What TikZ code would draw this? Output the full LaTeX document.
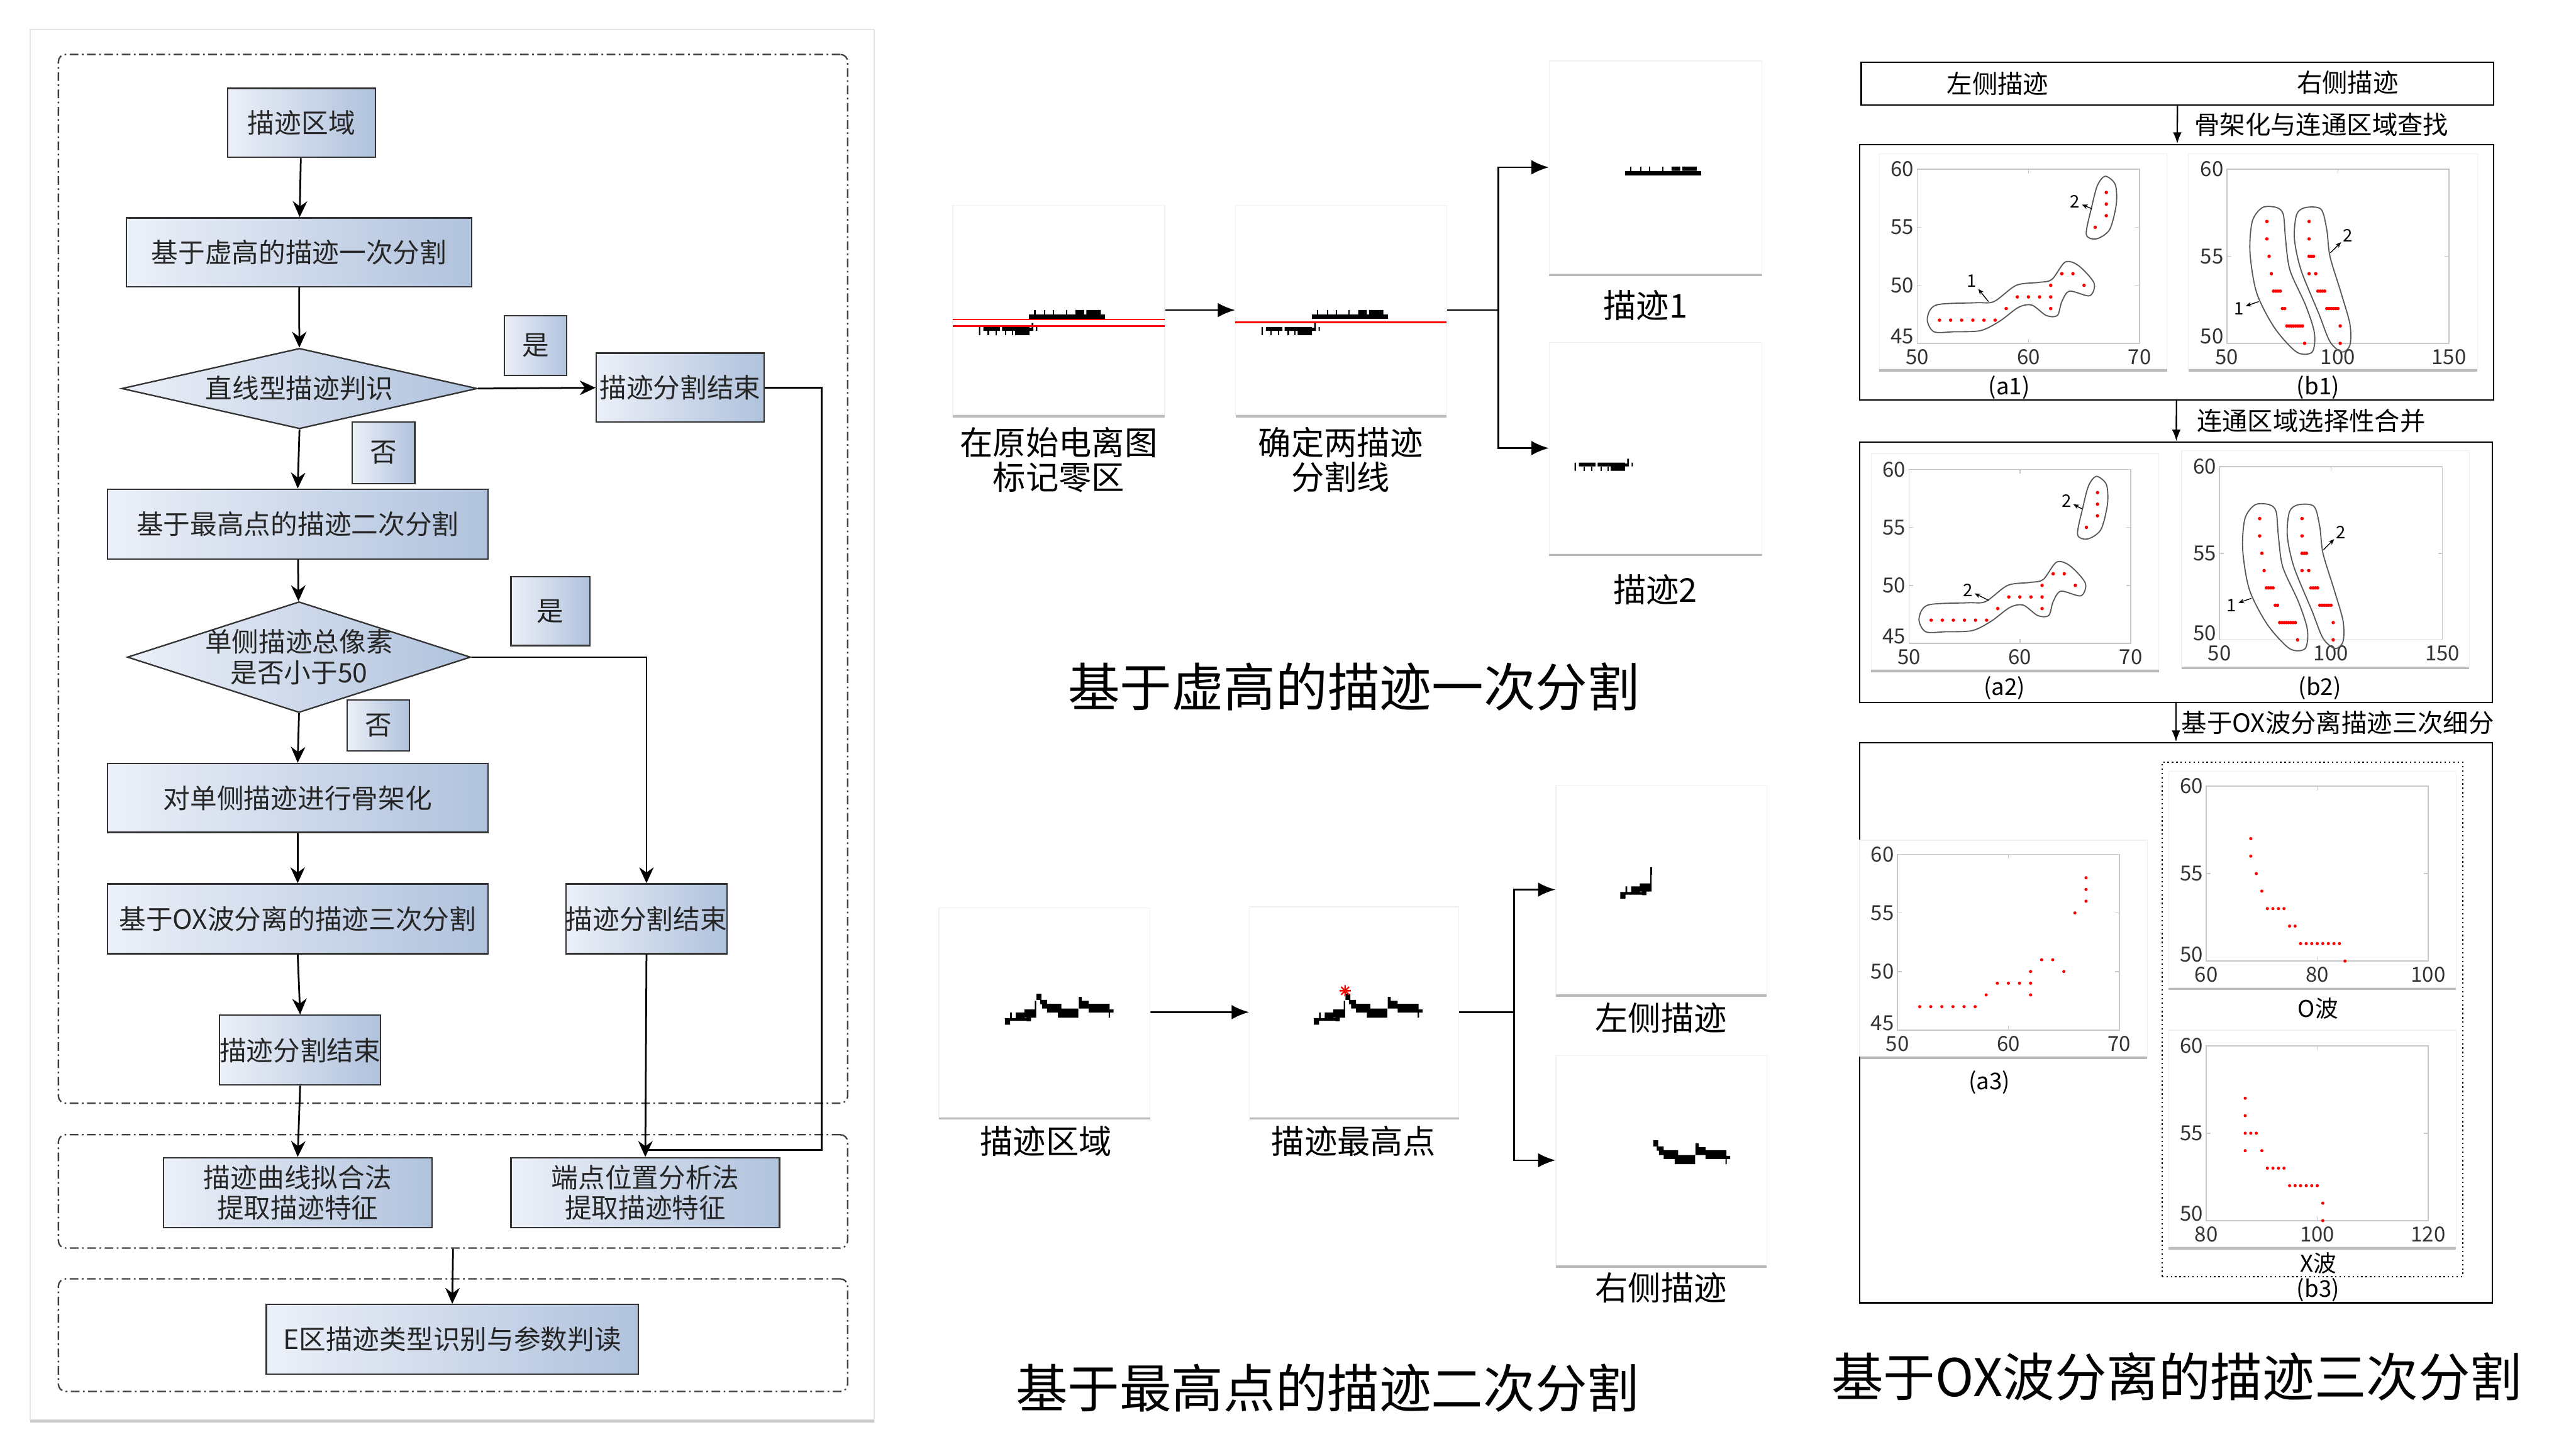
\documentclass[tikz,border=0pt]{standalone}
\usepackage{fontspec}
\setmainfont{Noto Sans CJK SC}
\usetikzlibrary{arrows.meta,shapes.geometric,shadows,positioning}

\definecolor{boxlight}{RGB}{236,240,248}
\definecolor{boxdark}{RGB}{176,194,221}
\definecolor{axgray}{RGB}{200,200,200}

% ionogram traces, drawn in full-size pixels (y downwards)
\newcommand{\traceup}{%
  \fill (0,0) rectangle (175,10);
  \foreach \tk in {12,35,55,85} {\fill (\tk,-10) rectangle ++(3,10);}
  \fill (107,-10) rectangle (127,0) (132,-10) rectangle (165,0);
}
\newcommand{\tracelow}{%
  \fill (0,0) rectangle (3,19) (10,0) rectangle (48,9) (53,0) rectangle (116,9)
        (83,0) rectangle (116,19) (116,2) rectangle (121,9) (121,-9) rectangle (125,9)
        (131,0) rectangle (134,9);
  \foreach \tk in {20,38,60,75} {\fill (\tk,9) rectangle ++(3,10);}
}
\newcommand{\peakleft}{%
  \fill (27,122) rectangle (39,137) (39,122) rectangle (77,128) (39,109) rectangle (43,122)
        (52,109) rectangle (72,122) (72,102) rectangle (99,121) (77,121) rectangle (87,129)
        (96,82) rectangle (99,102);
}
\newcommand{\peakright}{%
  \fill (100,66) rectangle (111,80) (108,80) rectangle (124,90) (113,89) rectangle (157,100)
        (124,100) rectangle (157,109) (149,100) rectangle (196,121) (197,73) rectangle (204,100)
        (197,82) rectangle (220,100) (220,89) rectangle (268,109) (268,102) rectangle (277,109)
        (266,109) rectangle (269,121);
}
% scatter data
\newcommand{\leftpts}{52/47,53/47,54/47,55/47,56/47,57/47,58/48,59/49,60/49,61/49,62/49,62/50,62/48,63/51,64/51,65/50,66/55,67/56,67/57,67/58}
\newcommand{\opts}{68/57,68/56,69/55,70/54,71/53,72/53,73/53,74/53,75/52,76/52,77/51,78/51,79/51,80/51,81/51,82/51,83/51,84/51,85/50}
\newcommand{\xpts}{87/57,87/56,87/55,88/55,89/55,87/54,90/54,91/53,92/53,93/53,94/53,95/52,96/52,97/52,98/52,99/52,100/52,101/51,101/50}
% axes box: xmin, x2, xmax, ymin, y2, ymax
\newcommand{\plotaxes}[6]{%
  \draw[axisframe] (#1,#4) rectangle (#3,#6);
  \foreach \tk in {#1,#2,...,#3} {
    \draw[axisframe] (\tk,#4) -- ++(0pt,1.5pt) (\tk,#6) -- ++(0pt,-1.5pt);
    \node[ticklab, below, yshift=-0.8pt] at (\tk,#4) {\tk};
  }
  \foreach \tk [count=\tkn] in {#4,#5,...,#6} {
    \draw[axisframe] (#1,\tk) -- ++(1.5pt,0pt) (#3,\tk) -- ++(-1.5pt,0pt);
    \ifnum\tkn=1
      \node[ticklab, anchor=south east, yshift=-1.5pt] at (#1,\tk) {\tk};
    \else
      \node[ticklab, left] at (#1,\tk) {\tk};
    \fi
  }
}

\begin{document}
\begin{tikzpicture}[x=0.02cm, y=-0.02cm, >={Stealth[length=5.5pt,width=5pt]},
  flow/.style={draw=black!80, line width=0.5pt, left color=boxlight, right color=boxdark,
    font=\fontsize{9.3}{10.6}\selectfont, text=black!85, align=center, inner sep=0pt},
  frame/.style={draw=black!75, line width=0.5pt, rounded corners=2.5pt,
    dash pattern=on 3pt off 1.2pt on 0.6pt off 1.2pt, inner sep=0pt},
  flowarrow/.style={->, line width=0.6pt},
  shot/.style={fill=white, draw=black!6, line width=0.3pt, inner sep=0pt,
    drop shadow={shadow xshift=0pt, shadow yshift=-0.9pt, opacity=0.6, fill=black!45}},
  midarrow/.style={-{Latex[length=6pt,width=5pt]}, line width=0.6pt},
  redline/.style={red, line width=0.6pt},
  capt/.style={font=\fontsize{11.4}{12}\selectfont, align=center},
  title/.style={font=\fontsize{18}{20}\selectfont},
  rightlab/.style={font=\fontsize{8.8}{10}\selectfont, inner sep=0pt},
  smallarrow/.style={-{Latex[length=4pt,width=3pt]}, line width=0.5pt},
  sublab/.style={font=\fontsize{8}{9}\selectfont, inner sep=0pt},
  axisframe/.style={axgray, line width=0.35pt},
  ticklab/.style={font=\fontsize{7.2}{8}\selectfont, text=black!80, inner sep=1pt},
  blob/.style={black!65, line width=0.4pt},
  clusterlab/.style={font=\fontsize{6}{7}\selectfont, inner sep=0.5pt},
  tinyarrow/.style={-{Stealth[length=2pt,width=1.6pt]}, line width=0.3pt}]
\useasboundingbox (0,0) rectangle (1568,882);

% ---- flowchart ----
\filldraw[fill=white, draw=black!10, drop shadow={shadow xshift=0pt, shadow yshift=-1pt, opacity=0.5, fill=black!40}] (18.5,18) rectangle (532,864);
\node[frame, minimum width=9.61cm, minimum height=12.77cm] (fr1) at (275.75,352.35) {};
\node[frame, minimum width=9.61cm, minimum height=1.38cm] (fr2) at (275.75,725.2) {};
\node[frame, minimum width=9.61cm, minimum height=1.37cm] (fr3) at (275.75,812.7) {};

\node[flow, minimum width=1.8cm, minimum height=0.84cm] (start) at (183.5,74.8) {描迹区域};
\node[flow, minimum width=4.2cm, minimum height=0.84cm] (seg1) at (182,153.6) {基于虚高的描迹一次分割};
\node[flow, diamond, aspect=4.4, minimum width=4.33cm, minimum height=0.98cm] (judge1) at (182.3,236.5) {直线型描迹判识};
\node[flow, minimum width=0.76cm, minimum height=0.73cm] (yes1) at (326,210.3) {是};
\node[flow, minimum width=2.04cm, minimum height=0.84cm] (end1) at (414,236) {描迹分割结束};
\node[flow, minimum width=0.76cm, minimum height=0.75cm] (no1) at (233.5,275.5) {否};
\node[flow, minimum width=4.63cm, minimum height=0.85cm] (seg2) at (181.2,319) {基于最高点的描迹二次分割};
\node[flow, diamond, aspect=3.1, inner xsep=-4pt, minimum width=4.18cm, minimum height=1.35cm] (judge2) at (182,400) {单侧描迹总像素\\是否小于50};
\node[flow, minimum width=0.96cm, minimum height=0.84cm] (yes2) at (335,372) {是};
\node[flow, minimum width=0.76cm, minimum height=0.62cm] (no2) at (230.3,441.5) {否};
\node[flow, minimum width=4.63cm, minimum height=0.84cm] (skel) at (181.2,485.7) {对单侧描迹进行骨架化};
\node[flow, minimum width=4.63cm, minimum height=0.85cm] (seg3) at (181.2,559.3) {基于OX波分离的描迹三次分割};
\node[flow, minimum width=1.94cm, minimum height=0.85cm] (end2) at (393.5,559.3) {描迹分割结束};
\node[flow, minimum width=1.95cm, minimum height=0.85cm] (end3) at (182.7,639.2) {描迹分割结束};
\node[flow, minimum width=3.27cm, minimum height=0.85cm] (curvefit) at (181.2,725.9) {描迹曲线拟合法\\提取描迹特征};
\node[flow, minimum width=3.27cm, minimum height=0.85cm] (endpos) at (392.8,725.9) {端点位置分析法\\提取描迹特征};
\node[flow, minimum width=4.53cm, minimum height=0.85cm] (eregion) at (275.3,815.3) {E区描迹类型识别与参数判读};

\draw[flowarrow] (start) -- (seg1);
\draw[flowarrow] (seg1) -- (judge1);
\draw[flowarrow] (judge1.east) -- (end1.west);
\draw[flowarrow] (judge1.south) -- (seg2.north);
\draw[flowarrow] (seg2) -- (judge2);
\draw[flowarrow] (judge2.south) -- (skel.north);
\draw[flowarrow] (judge2.east) -| (end2.north);
\draw[flowarrow] (skel) -- (seg3);
\draw[flowarrow] (seg3.south) -- (end3.north);
\draw[flowarrow] (end3.south) -- (curvefit.north);
\draw[flowarrow] (end2.south) -- (endpos.north);
\coordinate (back) at (500,700);
\draw[line width=0.6pt] (end1.east) -| (back) -- (back -| endpos.north);
\draw[flowarrow] (fr2.south) -- (eregion.north);

% ---- first segmentation ----
\node[shot, minimum width=2.58cm, minimum height=2.55cm] (imgA) at (644.5,188.75) {};
\node[shot, minimum width=2.57cm, minimum height=2.55cm] (imgB) at (816.3,188.75) {};
\node[shot, minimum width=2.59cm, minimum height=2.59cm] (imgC) at (1007.75,101.85) {};
\node[shot, minimum width=2.59cm, minimum height=2.57cm] (imgD) at (1007.75,272.75) {};
\begin{scope}[shift={(626.35,191.32)}, scale=0.2646] \traceup \end{scope}
\begin{scope}[shift={(595.9,199.0)}, scale=0.2646] \tracelow \end{scope}
\begin{scope}[shift={(798.4,191.32)}, scale=0.2646] \traceup \end{scope}
\begin{scope}[shift={(767.9,199.0)}, scale=0.2646] \tracelow \end{scope}
\begin{scope}[shift={(989.15,104.0)}, scale=0.2646] \traceup \end{scope}
\begin{scope}[shift={(958.45,281.56)}, scale=0.2646] \tracelow \end{scope}
\draw[redline] (580,194.5) -- (709,194.5) (580,198.5) -- (709,198.5);
\draw[redline] (752,196.3) -- (880.6,196.3);

\draw[midarrow] (imgA) -- (imgB);
\coordinate (fork1) at (912,188.75);
\draw[line width=0.6pt] (imgB.east) -- (fork1);
\draw[midarrow] (fork1) |- (imgC.west);
\draw[midarrow] (fork1) |- (imgD.west);
\node[capt] (capA) at (644.5,280) {在原始电离图\\标记零区};
\node[capt] (capB) at (816,280) {确定两描迹\\分割线};
\node[capt] (capC) at (1001.5,186) {描迹1};
\node[capt] (capD) at (1007.5,359) {描迹2};
\node[title] (title1) at (824,418) {基于虚高的描迹一次分割};

% ---- second segmentation ----
\node[shot, minimum width=2.57cm, minimum height=2.55cm] (imgE) at (635.8,616.25) {};
\node[shot, minimum width=2.55cm, minimum height=2.56cm] (imgF) at (824.25,616) {};
\node[shot, minimum width=2.57cm, minimum height=2.54cm] (imgG) at (1011.25,541.5) {};
\node[shot, minimum width=2.57cm, minimum height=2.55cm] (imgH) at (1011.25,706.25) {};
\begin{scope}[shift={(604.5,587.46)}, scale=0.2646] \peakleft \peakright \end{scope}
\begin{scope}[shift={(792.54,587.46)}, scale=0.2646]
  \peakleft \peakright
  \draw[red, line width=0.5pt] (86,59) -- (112,59) (99,46) -- (99,72) (90,50) -- (108,68) (90,68) -- (108,50);
\end{scope}
\begin{scope}[shift={(979.1,510.7)}, scale=0.2646] \peakleft \fill (96,65) rectangle (100,82); \end{scope}
\begin{scope}[shift={(979.9,676.6)}, scale=0.2646] \peakright \end{scope}

\draw[midarrow] (imgE) -- (imgF);
\coordinate (fork2) at (921.5,616);
\draw[line width=0.6pt] (imgF.east) -- (fork2);
\draw[midarrow] (fork2) |- (imgG.west);
\draw[midarrow] (fork2) |- (imgH.west);
\node[capt] (capE) at (636.7,694.6) {描迹区域};
\node[capt] (capF) at (824,694.6) {描迹最高点};
\node[capt] (capG) at (1011,619.5) {左侧描迹};
\node[capt] (capH) at (1011,784) {右侧描迹};
\node[title] (title2) at (808,845) {基于最高点的描迹二次分割};

% ---- third segmentation ----
\node[draw, line width=0.5pt, minimum width=7.70cm, minimum height=0.52cm] (sides) at (1325.4,51) {};
\node[rightlab] (lefttr) at (1216,51) {左侧描迹};
\node[rightlab] (righttr) at (1429,50) {右侧描迹};
\node[draw, line width=0.5pt, minimum width=7.72cm, minimum height=3.11cm] (row1) at (1325,165.75) {};
\node[draw, line width=0.5pt, minimum width=7.70cm, minimum height=3.17cm] (row2) at (1324.5,348.25) {};
\node[draw, line width=0.5pt, minimum width=7.70cm, minimum height=6.82cm] (row3) at (1324.5,622.5) {};
\draw[smallarrow] (sides) -- node[rightlab, anchor=west, xshift=0.2cm] {骨架化与连通区域查找} (row1);
\draw[smallarrow] (row1) -- node[rightlab, anchor=west, xshift=0.24cm] {连通区域选择性合并} (row2);
\draw[smallarrow] (row2) -- node[rightlab, anchor=west, xshift=0.06cm] {基于OX波分离描迹三次细分} (row3);

% (a1)
\filldraw[shot] (1144,93.6) rectangle (1319,224.5);
\begin{scope}[shift={(1167,209)}, x={(0.1354cm,0)}, y={(0,0.14133cm)}, shift={(-50,-45)}]
  \plotaxes{50}{60}{70}{45}{50}{60}
  \draw[blob] plot[smooth cycle] coordinates {(50.9,47.1) (51.7,48.3) (55.3,48.5) (56.9,48.6) (58.9,50) (60.9,50.25) (62.1,50.5) (63.3,52) (64.5,51.7) (65.9,50.2) (65.5,49.1) (63.7,49.5) (63.0,48.6) (62.6,47.4) (61.6,47.4) (60.3,48.3) (59.1,48.1) (57.4,46.9) (55.7,46.1) (53.3,46.0) (51.5,46.0)};
  \draw[blob] plot[smooth cycle] coordinates {(65.2,54.4) (65.7,56.8) (66.2,58.6) (66.9,59.4) (67.8,58.7) (67.9,57) (67.3,54.8) (66.1,54.0)};
  \foreach \ptx/\pty in \leftpts {\fill[red] (\ptx,\pty) circle[radius=0.6pt];}
  \node[clusterlab] (aonefirst) at (54.9,50.4) {1};
  \draw[tinyarrow] (56.4,48.6) -- (aonefirst);
  \node[clusterlab] (aonesecond) at (64.2,57.2) {2};
  \draw[tinyarrow] (65.7,56.6) -- (aonesecond);
\end{scope}
\node[sublab] (capaone) at (1223,236) {(a1)};

% (b1)
\filldraw[shot] (1332,93.6) rectangle (1508,224.5);
\begin{scope}[shift={(1355.5,209)}, x={(0.02704cm,0)}, y={(0,0.212cm)}, shift={(-50,-50)}]
  \plotaxes{50}{100}{150}{50}{55}{60}
  \draw[blob] plot[smooth cycle] coordinates {(72.4,57.8) (75.4,57.4) (76.4,56) (78.4,54.2) (85.4,52.2) (89.4,50.6) (88.4,49.5) (81.4,49.5) (71.4,50.9) (63.4,52.9) (60.4,55.2) (61.4,57) (66,57.8)};
  \draw[blob] plot[smooth cycle] coordinates {(81.4,57.4) (85.4,57.8) (92.4,57.7) (95,56.5) (96.4,55) (101.4,52.9) (105.4,51.1) (105.4,49.9) (101.8,49.5) (96.4,50.1) (91.4,51.7) (83.4,54.2) (80.4,56)};
  \foreach \ptx/\pty in \opts {\fill[red] (\ptx,\pty) circle[radius=0.6pt];}
  \foreach \ptx/\pty in \xpts {\fill[red] (\ptx,\pty) circle[radius=0.6pt];}
  \node[clusterlab] (bonefirst) at (55.4,52) {1};
  \draw[tinyarrow] (64.3,52.4) -- (bonefirst);
  \node[clusterlab] (bonesecond) at (104.5,56.2) {2};
  \draw[tinyarrow] (96.6,55.2) -- (bonesecond);
\end{scope}
\node[sublab] (capbone) at (1411,236) {(b1)};

% (a2)
\filldraw[shot] (1139,276) rectangle (1314,407.5);
\begin{scope}[shift={(1162,391.6)}, x={(0.135cm,0)}, y={(0,0.1412cm)}, shift={(-50,-45)}]
  \plotaxes{50}{60}{70}{45}{50}{60}
  \draw[blob] plot[smooth cycle] coordinates {(50.9,47.1) (51.7,48.3) (55.3,48.5) (56.9,48.6) (58.9,50) (60.9,50.25) (62.1,50.5) (63.3,52) (64.5,51.7) (65.9,50.2) (65.5,49.1) (63.7,49.5) (63.0,48.6) (62.6,47.4) (61.6,47.4) (60.3,48.3) (59.1,48.1) (57.4,46.9) (55.7,46.1) (53.3,46.0) (51.5,46.0)};
  \draw[blob] plot[smooth cycle] coordinates {(65.2,54.4) (65.7,56.8) (66.2,58.6) (66.9,59.4) (67.8,58.7) (67.9,57) (67.3,54.8) (66.1,54.0)};
  \foreach \ptx/\pty in \leftpts {\fill[red] (\ptx,\pty) circle[radius=0.6pt];}
  \node[clusterlab] (atwofirst) at (55.3,49.6) {2};
  \draw[tinyarrow] (57.2,48.7) -- (atwofirst);
  \node[clusterlab] (atwosecond) at (64.2,57.3) {2};
  \draw[tinyarrow] (65.6,56.6) -- (atwosecond);
\end{scope}
\node[sublab] (capatwo) at (1220,419) {(a2)};

% (b2)
\filldraw[shot] (1328,274.4) rectangle (1503,405.8);
\begin{scope}[shift={(1351,389.5)}, x={(0.02714cm,0)}, y={(0,0.211cm)}, shift={(-50,-50)}]
  \plotaxes{50}{100}{150}{50}{55}{60}
  \draw[blob] plot[smooth cycle] coordinates {(72.4,57.8) (75.4,57.4) (76.4,56) (78.4,54.2) (85.4,52.2) (89.4,50.6) (88.4,49.5) (81.4,49.5) (71.4,50.9) (63.4,52.9) (60.4,55.2) (61.4,57) (66,57.8)};
  \draw[blob] plot[smooth cycle] coordinates {(81.4,57.4) (85.4,57.8) (92.4,57.7) (95,56.5) (96.4,55) (101.4,52.9) (105.4,51.1) (105.4,49.9) (101.8,49.5) (96.4,50.1) (91.4,51.7) (83.4,54.2) (80.4,56)};
  \foreach \ptx/\pty in \opts {\fill[red] (\ptx,\pty) circle[radius=0.6pt];}
  \foreach \ptx/\pty in \xpts {\fill[red] (\ptx,\pty) circle[radius=0.6pt];}
  \node[clusterlab] (btwofirst) at (55.4,52) {1};
  \draw[tinyarrow] (64.3,52.4) -- (btwofirst);
  \node[clusterlab] (btwosecond) at (104.5,56.2) {2};
  \draw[tinyarrow] (96.6,55.2) -- (btwosecond);
\end{scope}
\node[sublab] (capbtwo) at (1412,419) {(b2)};

% (a3)
\filldraw[shot] (1132,511.5) rectangle (1307,643);
\begin{scope}[shift={(1155,627)}, x={(0.135cm,0)}, y={(0,0.14267cm)}, shift={(-50,-45)}]
  \plotaxes{50}{60}{70}{45}{50}{60}
  \foreach \ptx/\pty in \leftpts {\fill[red] (\ptx,\pty) circle[radius=0.55pt];}
\end{scope}
\node[sublab] (capathree) at (1211,659) {(a3)};

% (b3)
\node[draw, densely dotted, line width=0.5pt, minimum width=3.66cm, minimum height=6.26cm] (bthree) at (1407.5,620.5) {};
\filldraw[shot] (1320,469.5) rectangle (1495,601);
\begin{scope}[shift={(1343,585)}, x={(0.0675cm,0)}, y={(0,0.213cm)}, shift={(-60,-50)}]
  \plotaxes{60}{80}{100}{50}{55}{60}
  \foreach \ptx/\pty in \opts {\fill[red] (\ptx,\pty) circle[radius=0.55pt];}
\end{scope}
\node[sublab] (capo) at (1411,614) {O波};
\filldraw[shot] (1320,627) rectangle (1495,759);
\begin{scope}[shift={(1343,743)}, x={(0.0675cm,0)}, y={(0,0.213cm)}, shift={(-80,-50)}]
  \plotaxes{80}{100}{120}{50}{55}{60}
  \foreach \ptx/\pty in \xpts {\fill[red] (\ptx,\pty) circle[radius=0.55pt];}
\end{scope}
\node[sublab] (capx) at (1411,769) {X波};
\node[sublab] (capbthree) at (1411,785) {(b3)};
\node[title] (title3) at (1325,838) {基于OX波分离的描迹三次分割};
\end{tikzpicture}
\end{document}
